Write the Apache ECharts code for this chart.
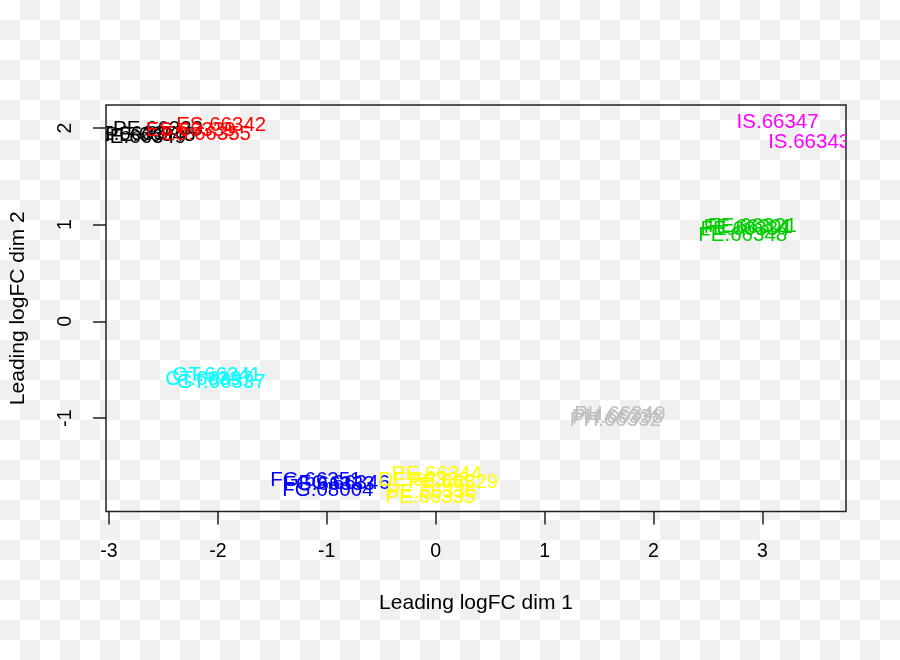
<!DOCTYPE html>
<html>
<head>
<meta charset="utf-8">
<script src="https://cdn.jsdelivr.net/npm/echarts@6/dist/echarts.min.js"></script>
<style>
  html, body { margin: 0; padding: 0; }
  body {
    width: 900px; height: 660px;
    background: repeating-conic-gradient(#f0f0f0 0% 25%, #ffffff 0% 50%) 0 0 / 40px 40px;
  }
  #chart { width: 900px; height: 660px; }
</style>
</head>
<body>
<div id="chart"></div>
<script>
// ---- data ----
const sampleLabels = [
  "DE.66337", "PE.66345", "DE.66349", "PE.66333",
  "ES.66339", "ES.66355", "ES.66342",
  "FE.66334", "FE.66348", "FE.66301", "FE.66321",
  "FG.66351", "FG.66333", "FG.66346", "FG.08004",
  "CT.66397", "GT.66341", "GT.66337",
  "IS.66347", "IS.66343",
  "DE.66338", "PE.66344", "PE.66329", "PE.66336", "PE.66335",
  "PH.66338", "PH.66340", "PH.66332"
];
const dim1 = [
  -2.80, -2.62, -2.71, -2.55,
  -2.25, -2.11, -1.97,
  2.84, 2.82, 2.87, 2.91,
  -1.10, -0.98, -0.84, -0.99,
  -2.08, -2.01, -1.97,
  3.14, 3.43,
  -0.11, 0.01, 0.16, -0.04, -0.05,
  1.67, 1.69, 1.65
];
const dim2 = [
  1.96, 1.94, 1.92, 2.01,
  2.00, 1.95, 2.05,
  0.97, 0.91, 0.99, 1.00,
  -1.62, -1.67, -1.66, -1.73,
  -0.58, -0.54, -0.61,
  2.08, 1.87,
  -1.62, -1.56, -1.64, -1.75, -1.80,
  -0.97, -0.94, -1.00
];
const sampleGroup = [
  "black", "black", "black", "black",
  "red", "red", "red",
  "green", "green", "green", "green",
  "blue", "blue", "blue", "blue",
  "cyan", "cyan", "cyan",
  "magenta", "magenta",
  "yellow", "yellow", "yellow", "yellow", "yellow",
  "gray", "gray", "gray"
];
const tickValuesX = [-3, -2, -1, 0, 1, 2, 3];
const tickValuesY = [-1, 0, 1, 2];
const xTitle = "Leading logFC dim 1";
const yTitle = "Leading logFC dim 2";

// ---- styling ----
const groupColor = {
  black: "#000000", red: "#FF0000", green: "#00CD00", blue: "#0000FF",
  cyan: "#00FFFF", magenta: "#FF00FF", yellow: "#FFFF00", gray: "#BEBEBE"
};
const FONT = '"Liberation Sans", Arial, Helvetica, sans-serif';
const groupOrder = ["black", "red", "green", "blue", "cyan", "magenta", "yellow", "gray"];

const series = groupOrder.map(g => {
  const idx = [];
  sampleGroup.forEach((s, i) => { if (s === g) idx.push(i); });
  return {
    type: 'custom',
    name: g,
    coordinateSystem: 'cartesian2d',
    clip: true,
    silent: true,
    data: idx.map(i => [dim1[i], dim2[i]]),
    renderItem: function (params, api) {
      const p = api.coord([api.value(0), api.value(1)]);
      return {
        type: 'text',
        x: p[0], y: p[1] + 2,
        style: {
          text: sampleLabels[idx[params.dataIndex]],
          fill: groupColor[g],
          font: '20.5px ' + FONT,
          align: 'center',
          verticalAlign: 'middle'
        }
      };
    }
  };
});

const chart = echarts.init(document.getElementById('chart'), null, { renderer: 'canvas' });
chart.setOption({
  backgroundColor: 'transparent',
  animation: false,
  grid: {
    left: 105, top: 105, right: 54, bottom: 148.5,
    show: true, borderColor: '#222', borderWidth: 1.5, backgroundColor: 'transparent'
  },
  xAxis: {
    type: 'value', min: -3.0275, max: 3.768,
    splitLine: { show: false },
    axisLine: { show: false, onZero: false },
    axisTick: { show: true, customValues: tickValuesX, length: 13, lineStyle: { color: '#222', width: 1.5 } },
    axisLabel: { customValues: tickValuesX, color: '#000', fontSize: 19.5, fontFamily: FONT, margin: 30 },
    name: xTitle, nameLocation: 'middle', nameGap: 81,
    nameTextStyle: { color: '#000', fontSize: 21, fontFamily: FONT }
  },
  yAxis: {
    type: 'value', min: -1.967, max: 2.238,
    splitLine: { show: false },
    axisLine: { show: false, onZero: false },
    axisTick: { show: true, customValues: tickValuesY, length: 13, lineStyle: { color: '#222', width: 1.5 } },
    axisLabel: { customValues: tickValuesY, color: '#000', fontSize: 19.5, fontFamily: FONT, margin: 30, rotate: 90 },
    name: yTitle, nameLocation: 'middle', nameGap: 77,
    nameTextStyle: { color: '#000', fontSize: 21, fontFamily: FONT }
  },
  series: series
});
</script>
</body>
</html>
